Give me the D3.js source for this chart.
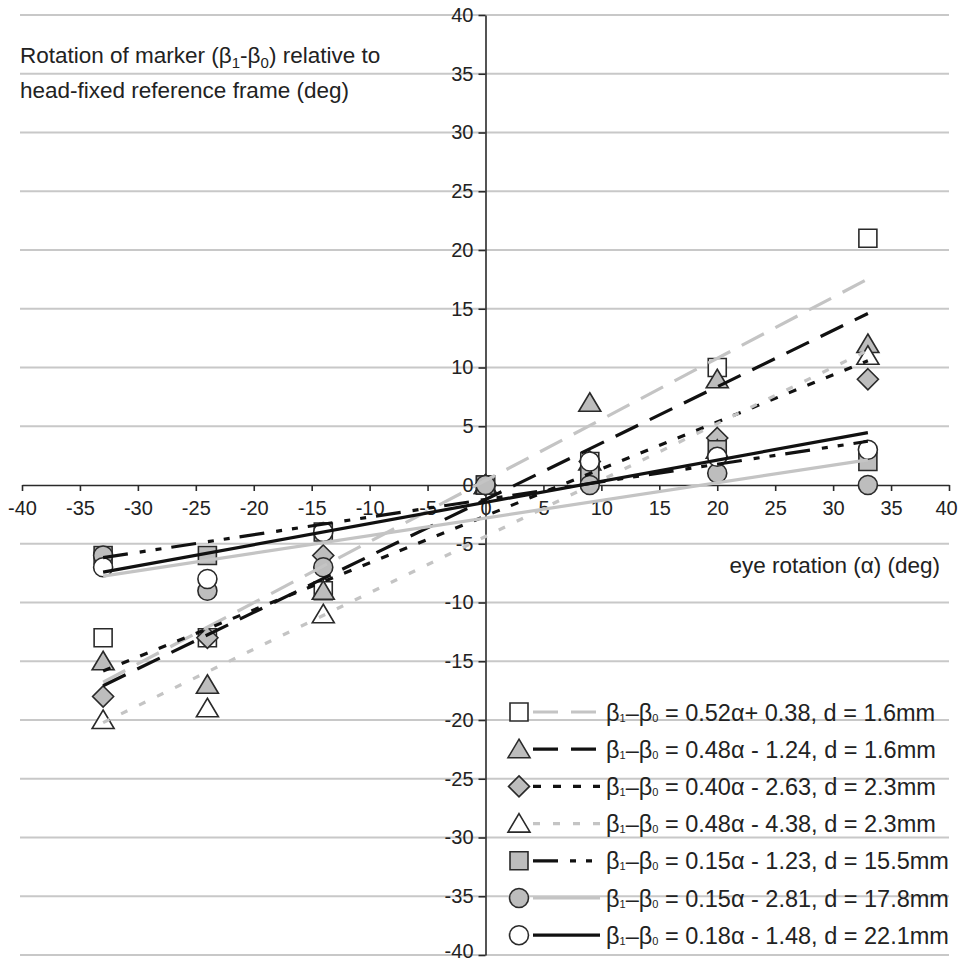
<!DOCTYPE html>
<html>
<head>
<meta charset="utf-8">
<script src="https://cdn.jsdelivr.net/npm/d3@7"></script>
<style>
  body { margin: 0; background: #fff; }
  svg text { font-family: "Liberation Sans", Arial, sans-serif; fill: #222; }
</style>
</head>
<body>
<svg id="chart" width="958" height="962"></svg>
<script>
// eye rotation (alpha) values where the marker was measured
var alphaValues = [-33, -24, -14, 0, 9, 20, 33];

// marker rotation (beta1 - beta0) per series, null where there is no point
var openSquareVals   = [-13, -13, -9, 0, 2, 10, 21];
var grayTriangleVals = [-15, -17, -9, 0, 7, 9, 12];
var grayDiamondVals  = [-18, -13, -6, 0, 2, 4, 9];
var openTriangleVals = [-20, -19, -11, 0, 2, 3, 11];
var graySquareVals   = [-6, -6, -4, 0, 1, 3, 2];
var grayCircleVals   = [-6, -9, -7, 0, 0, 1, 0];
var openCircleVals   = [-7, -8, -4, null, 2, 2.4, 3];

// fitted lines, as printed in the legend
var slopes     = [0.52, 0.48, 0.40, 0.48, 0.15, 0.15, 0.18];
var intercepts = [0.38, -1.24, -2.63, -4.38, -1.23, -2.81, -1.48];
var fitRange   = [-33, 33];

var legendText = [
    " = 0.52\u03b1+ 0.38, d = 1.6mm",
    " = 0.48\u03b1 - 1.24, d = 1.6mm",
    " = 0.40\u03b1 - 2.63, d = 2.3mm",
    " = 0.48\u03b1 - 4.38, d = 2.3mm",
    " = 0.15\u03b1 - 1.23, d = 15.5mm",
    " = 0.15\u03b1 - 2.81, d = 17.8mm",
    " = 0.18\u03b1 - 1.48, d = 22.1mm"
];

var xTicks = d3.range(-40, 41, 5);
var yTicks = d3.range(-40, 41, 5);

var grayFill = '#bdbdbd';
var darkStroke = '#2a2a2a';
var lightLine = '#c4c4c4';

var series = [
    {vals: openSquareVals,   shape: 'square',   fill: '#fff',   line: lightLine, dash: '25,13'},
    {vals: grayTriangleVals, shape: 'triangle', fill: grayFill, line: '#111',    dash: '25,13'},
    {vals: grayDiamondVals,  shape: 'diamond',  fill: grayFill, line: '#111',    dash: '8,12'},
    {vals: openTriangleVals, shape: 'triangle', fill: '#fff',   line: lightLine, dash: '7,13'},
    {vals: graySquareVals,   shape: 'square',   fill: grayFill, line: '#111',    dash: '25,12,6,10,6,10'},
    {vals: grayCircleVals,   shape: 'circle',   fill: grayFill, line: lightLine, dash: null},
    {vals: openCircleVals,   shape: 'circle',   fill: '#fff',   line: '#111',    dash: null}
];

var svg = d3.select('#chart');

var x = d3.scaleLinear().domain([-40, 40]).range([22, 949]);
var y = d3.scaleLinear().domain([-40, 40]).range([955, 15]);

var shapePath = function(shape) {
    if (shape === 'square') {
        return 'M-9,-9H9V9H-9Z';
    } else if (shape === 'triangle') {
        return 'M0,-10L11,8.5L-11,8.5Z';
    } else if (shape === 'diamond') {
        return 'M0,-10.5L10.5,0L0,10.5L-10.5,0Z';
    } else {
        return 'M9.5,0A9.5,9.5 0 1,1 -9.5,0A9.5,9.5 0 1,1 9.5,0Z';
    }
};

//plain hyphen for negatives, like the source chart
var plainFormat = function(d) { return String(d); };

//Horizontal gridlines
svg.append('g')
    .selectAll('line')
    .data(yTicks.filter(function(d) { return d !== 0; }))
    .join('line')
    .attr('x1', x(-40) - 2).attr('x2', x(40))
    .attr('y1', function(d) { return y(d); })
    .attr('y2', function(d) { return y(d); })
    .attr('stroke', '#c8c8c8')
    .attr('stroke-width', 2);

//x axis crosses at y = 0, ticks pointing down
var xAxis = d3.axisBottom(x).tickValues(xTicks).tickFormat(plainFormat)
    .tickSize(6).tickSizeOuter(0).tickPadding(10);
var gx = svg.append('g')
    .attr('transform', 'translate(0,' + y(0) + ')')
    .call(xAxis);

//y axis crosses at x = 0, ticks pointing left
var yAxis = d3.axisLeft(y).tickValues(yTicks).tickFormat(plainFormat)
    .tickSize(7).tickSizeOuter(0).tickPadding(5);
var gy = svg.append('g')
    .attr('transform', 'translate(' + x(0) + ',0)')
    .call(yAxis);

[gx, gy].forEach(function(g) {
    g.select('.domain').attr('stroke', darkStroke).attr('stroke-width', 1.6);
    g.selectAll('.tick line').attr('stroke', darkStroke).attr('stroke-width', 1.6);
    g.selectAll('.tick text')
        .attr('font-size', 20)
        .attr('font-family', '"Liberation Sans", Arial, sans-serif')
        .attr('fill', '#222');
});

//keep the outermost labels inside the picture
gx.selectAll('.tick text').filter(function(d) { return d === 40; }).attr('dx', -3);
gy.selectAll('.tick text').filter(function(d) { return d === -40; }).attr('dy', '0.1em');

//Markers, one group per series
series.forEach(function(s) {
    var pts = alphaValues.map(function(a, i) { return {a: a, v: s.vals[i]}; })
        .filter(function(d) { return d.v !== null; });

    svg.append('g')
        .selectAll('path')
        .data(pts)
        .join('path')
        .attr('transform', function(d) { return 'translate(' + x(d.a) + ',' + y(d.v) + ')'; })
        .attr('d', shapePath(s.shape))
        .attr('fill', s.fill)
        .attr('stroke', darkStroke)
        .attr('stroke-width', 1.6);
});

//Fitted lines go on top of the markers
var fitLine = d3.line()
    .x(function(d) { return x(d[0]); })
    .y(function(d) { return y(d[1]); });

series.forEach(function(s, i) {
    var ends = fitRange.map(function(a) { return [a, slopes[i] * a + intercepts[i]]; });
    svg.append('path')
        .attr('d', fitLine(ends))
        .attr('fill', 'none')
        .attr('stroke', s.line)
        .attr('stroke-width', 3.2)
        .attr('stroke-dasharray', s.dash);
});

//y axis title, two lines
var title = svg.append('text')
    .attr('x', 20)
    .attr('y', 63)
    .attr('font-size', 22.5);
title.append('tspan').text('Rotation of marker (\u03b2');
title.append('tspan').attr('font-size', 15).attr('dy', 5).text('1');
title.append('tspan').attr('dy', -5).text('-\u03b2');
title.append('tspan').attr('font-size', 15).attr('dy', 5).text('0');
title.append('tspan').attr('dy', -5).text(') relative to');

svg.append('text')
    .attr('x', 20)
    .attr('y', 98)
    .attr('font-size', 22.5)
    .text('head-fixed reference frame (deg)');

//x axis title
svg.append('text')
    .attr('x', 940)
    .attr('y', 573)
    .attr('text-anchor', 'end')
    .attr('font-size', 22.5)
    .text('eye rotation (\u03b1) (deg)');

//Legend
var rowHeight = 37.2;
var legend = svg.append('g').attr('transform', 'translate(0,712)');

series.forEach(function(s, i) {
    var row = legend.append('g').attr('transform', 'translate(0,' + i * rowHeight + ')');

    row.append('line')
        .attr('x1', 533).attr('x2', 600)
        .attr('y1', 0).attr('y2', 0)
        .attr('stroke', s.line)
        .attr('stroke-width', 3.2)
        .attr('stroke-dasharray', s.dash);

    row.append('path')
        .attr('transform', 'translate(519,0)')
        .attr('d', shapePath(s.shape))
        .attr('fill', s.fill)
        .attr('stroke', darkStroke)
        .attr('stroke-width', 1.6);

    var t = row.append('text')
        .attr('x', 606)
        .attr('y', 8.5)
        .attr('font-size', 23.5);
    t.append('tspan').text('\u03b2');
    t.append('tspan').attr('font-size', 11).attr('dy', 1).text('1');
    t.append('tspan').attr('dy', -1).text('\u2013\u03b2');
    t.append('tspan').attr('font-size', 11).attr('dy', 1).text('0');
    t.append('tspan').attr('dy', -1).text(legendText[i]);
});
</script>
</body>
</html>
